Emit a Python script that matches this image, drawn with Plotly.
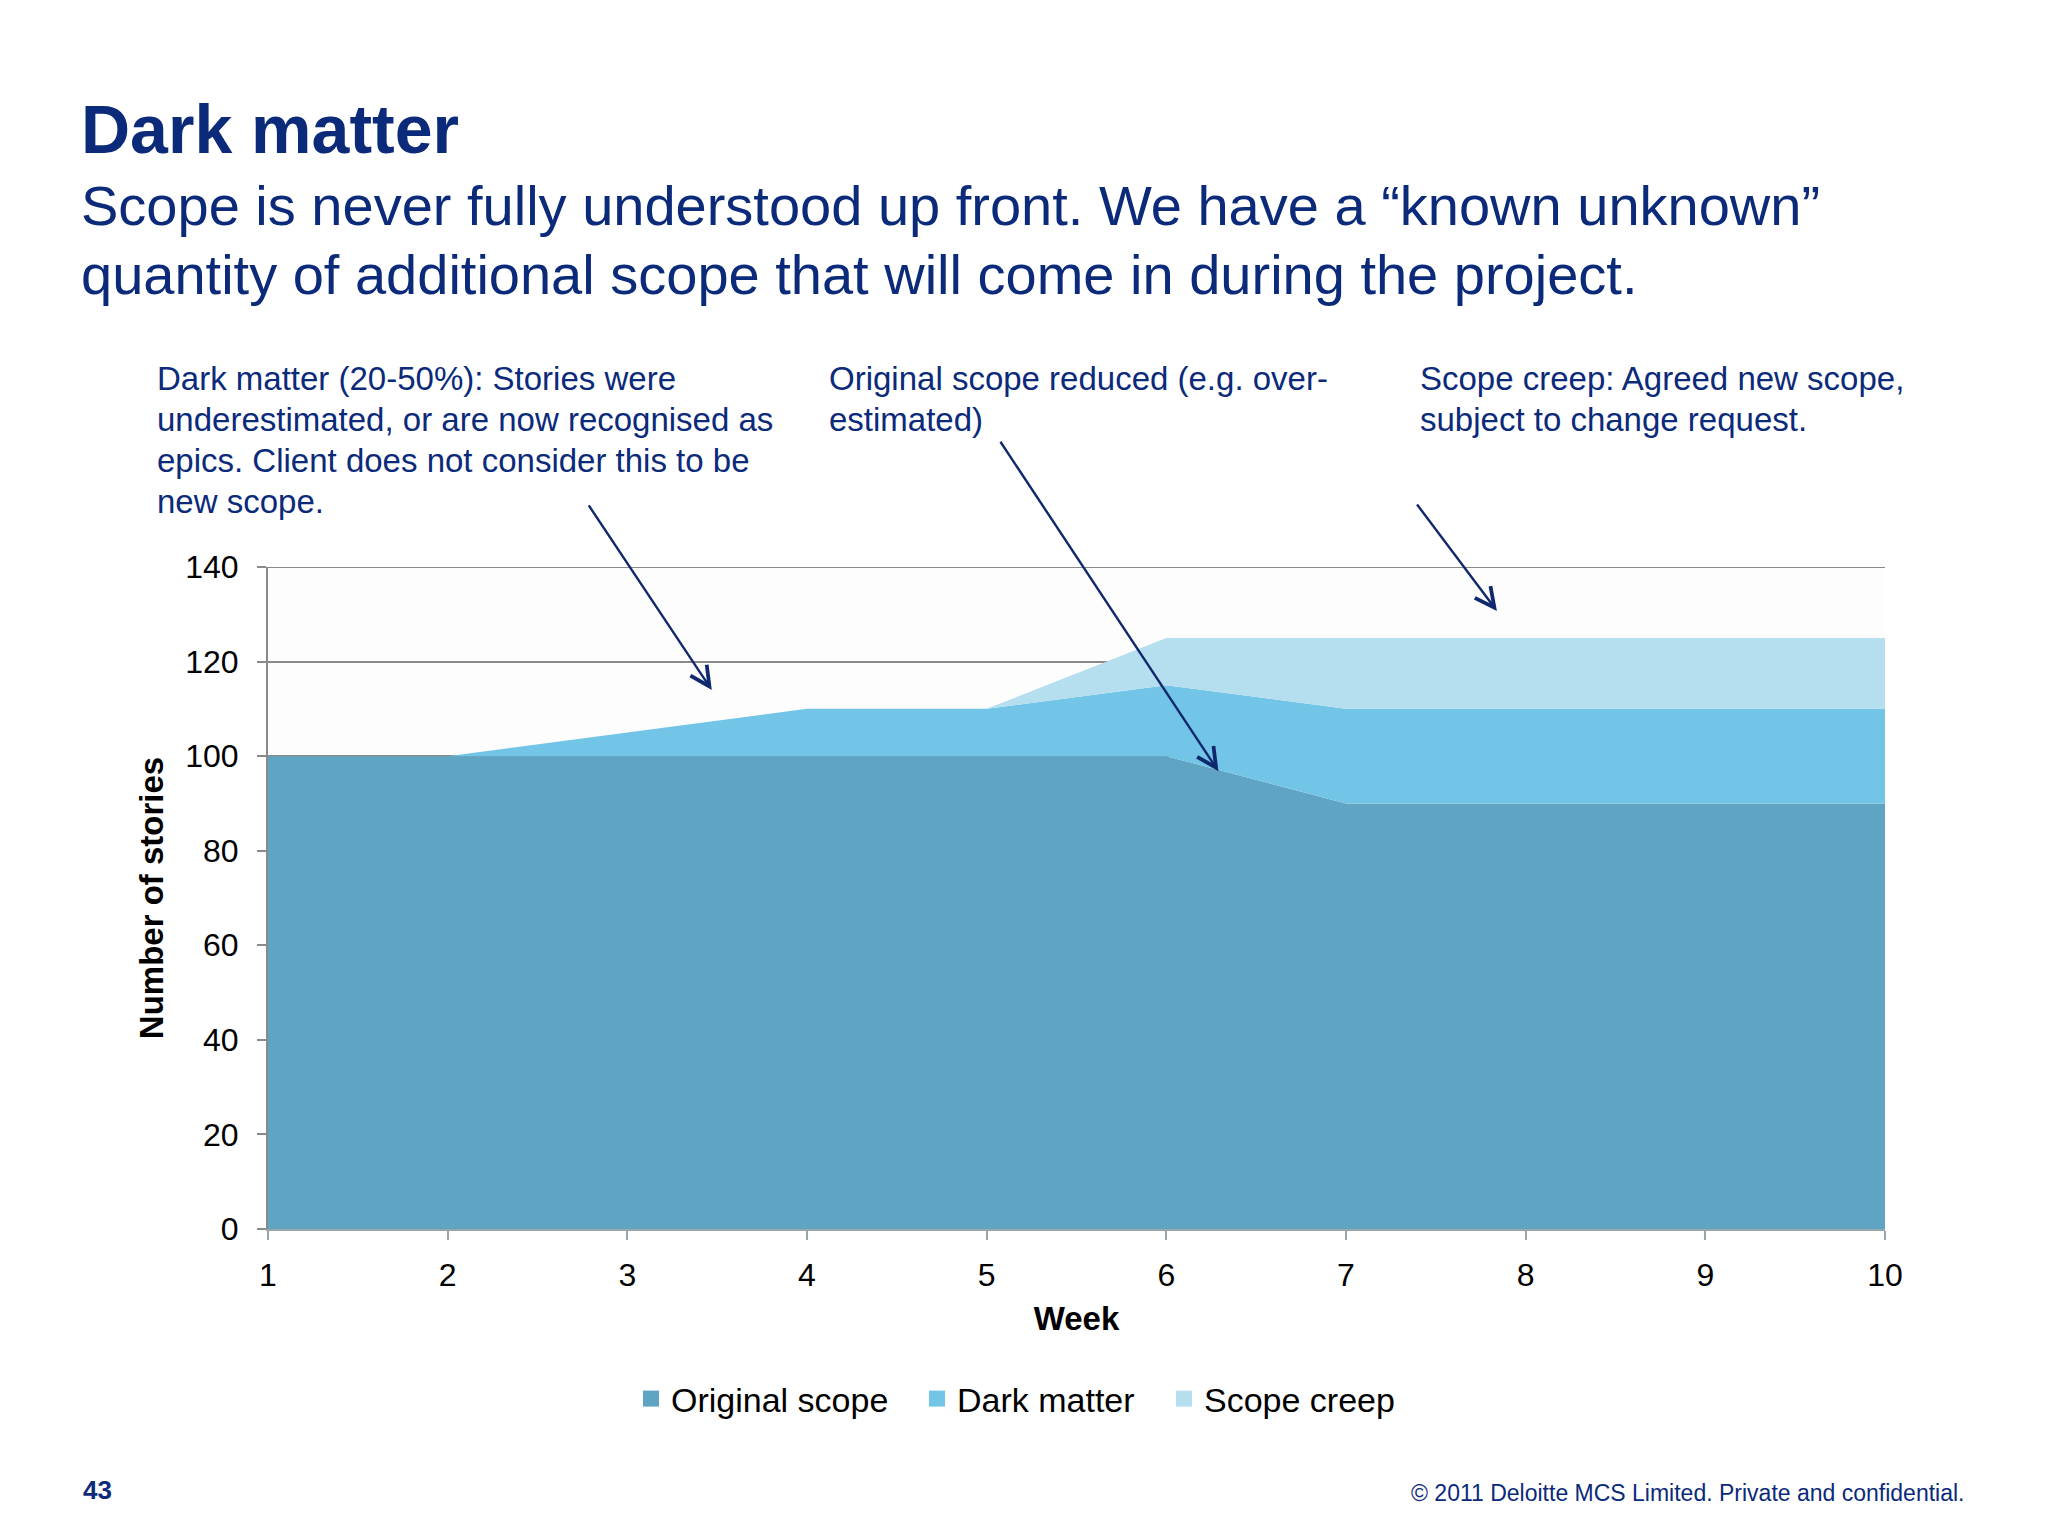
import plotly.graph_objects as go

weeks = [1, 2, 3, 4, 5, 6, 7, 8, 9, 10]
original_scope = [100, 100, 100, 100, 100, 100, 90, 90, 90, 90]
dark_matter = [0, 0, 5, 10, 10, 15, 20, 20, 20, 20]
scope_creep = [0, 0, 0, 0, 0, 10, 15, 15, 15, 15]
series_names = ["Original scope", "Dark matter", "Scope creep"]
series_colors = ["#5fa4c2", "#72c5e7", "#b5deef"]
y_ticks = [0, 20, 40, 60, 80, 100, 120, 140]

NAVY = "#0b2a7a"
FONT = "Liberation Sans, Arial, sans-serif"

fig = go.Figure()
for name, vals, col in zip(series_names, [original_scope, dark_matter, scope_creep], series_colors):
    fig.add_trace(go.Scatter(
        x=weeks, y=vals, name=name, stackgroup="one", mode="lines",
        line=dict(width=0, color=col), fillcolor=col, showlegend=False,
        hoverinfo="x+y+name",
    ))
legend_ids = ["legend", "legend2", "legend3"]
for name, col, lid in zip(series_names, series_colors, legend_ids):
    fig.add_trace(go.Scatter(
        x=[None], y=[None], name=name, mode="markers", legend=lid,
        marker=dict(symbol="square", size=18, color=col), showlegend=True,
    ))

OFF = 8  # page body margin
W, H = 2048, 1536
SX0, SX1, SY0, SY1 = 268, 1885, 567, 1229
L = SX0 - OFF
T = SY0 - OFF
R = W - (SX1 - OFF)
B = H - (SY1 - OFF)
pw, ph = SX1 - SX0, SY1 - SY0

def px(xs):
    return (xs - SX0) / pw

def py(ys):
    return (SY1 - ys) / ph

annotations = []
annotations.append(dict(text="<b>Dark matter</b>", x=px(79), y=py(129), xref="paper", yref="paper",
                        xanchor="left", yanchor="middle", showarrow=False,
                        font=dict(size=68, color=NAVY, family=FONT)))
sub_lines = ["Scope is never fully understood up front. We have a \u201cknown unknown\u201d",
             "quantity of additional scope that will come in during the project."]
for i, line in enumerate(sub_lines):
    annotations.append(dict(text=line, x=px(79), y=py(205 + 69 * i), xref="paper", yref="paper",
                            xanchor="left", yanchor="middle", showarrow=False,
                            font=dict(size=56, color=NAVY, family=FONT)))

callouts = [
    (155, ["Dark matter (20-50%): Stories were",
           "underestimated, or are now recognised as",
           "epics. Client does not consider this to be",
           "new scope."]),
    (827, ["Original scope reduced (e.g. over-", "estimated)"]),
    (1418, ["Scope creep: Agreed new scope,", "subject to change request."]),
]
for xl, lines in callouts:
    for i, line in enumerate(lines):
        annotations.append(dict(text=line, x=px(xl), y=py(379 + 40.8 * i), xref="paper", yref="paper",
                                xanchor="left", yanchor="middle", showarrow=False,
                                font=dict(size=33, color=NAVY, family=FONT)))

arrows = [(3.47, 114.0, -124, -186), (6.29, 96.8, -219, -331), (7.84, 130.7, -81, -108)]
for hx, hy, ax, ay in arrows:
    annotations.append(dict(x=hx, y=hy, xref="x", yref="y", ax=ax, ay=ay, text="",
                            showarrow=True, arrowhead=5, arrowsize=1.6, arrowwidth=2.4,
                            arrowcolor="#10296e"))

annotations.append(dict(text="<b>43</b>", x=px(81), y=py(1490), xref="paper", yref="paper",
                        xanchor="left", yanchor="middle", showarrow=False,
                        font=dict(size=26, color=NAVY, family=FONT)))
annotations.append(dict(text="\u00a9 2011 Deloitte MCS Limited. Private and confidential.",
                        x=px(1966), y=py(1493), xref="paper", yref="paper",
                        xanchor="right", yanchor="middle", showarrow=False,
                        font=dict(size=23, color=NAVY, family=FONT)))

legend_style = dict(orientation="h", yanchor="middle", y=py(1399), xanchor="left",
                    font=dict(size=34, color="black", family=FONT), bgcolor="rgba(0,0,0,0)",
                    itemwidth=30)
legend_left = [631, 917, 1164]

fig.update_layout(
    width=W, height=H,
    margin=dict(l=L, r=R, t=T, b=B, autoexpand=False),
    paper_bgcolor="white", plot_bgcolor="#fdfdfd",
    font=dict(family=FONT, color="black"),
    annotations=annotations,
    shapes=[dict(type="line", xref="paper", yref="y", x0=0, x1=1, y0=140, y1=140,
                 line=dict(color="#8a8a8a", width=2), layer="below")],
    showlegend=True,
    legend=dict(legend_style, x=px(legend_left[0])),
    legend2=dict(legend_style, x=px(legend_left[1])),
    legend3=dict(legend_style, x=px(legend_left[2])),
    xaxis=dict(range=[1, 10], tickmode="array", tickvals=weeks, ticktext=[str(w) for w in weeks],
               showgrid=False, zeroline=False, showline=True, linecolor="#9aa5ab", linewidth=2,
               ticks="outside", ticklen=9, tickcolor="#9aa5ab", tickwidth=2,
               tickfont=dict(size=32, color="black"), ticklabelstandoff=8,
               title=dict(text="<b>Week</b>", font=dict(size=33, color="black"), standoff=14)),
    yaxis=dict(range=[0, 140], tickmode="array", tickvals=y_ticks, ticktext=[str(v) for v in y_ticks],
               showgrid=True, gridcolor="#8a8a8a", gridwidth=2, zeroline=False,
               showline=True, linecolor="#8a8a8a", linewidth=2,
               ticks="outside", ticklen=9, tickcolor="#8a8a8a", tickwidth=2,
               tickfont=dict(size=32, color="black"), ticklabelstandoff=12,
               title=dict(text="<b>Number of stories</b>", font=dict(size=33, color="black"), standoff=12)),
)

fig.write_html("out.html")
